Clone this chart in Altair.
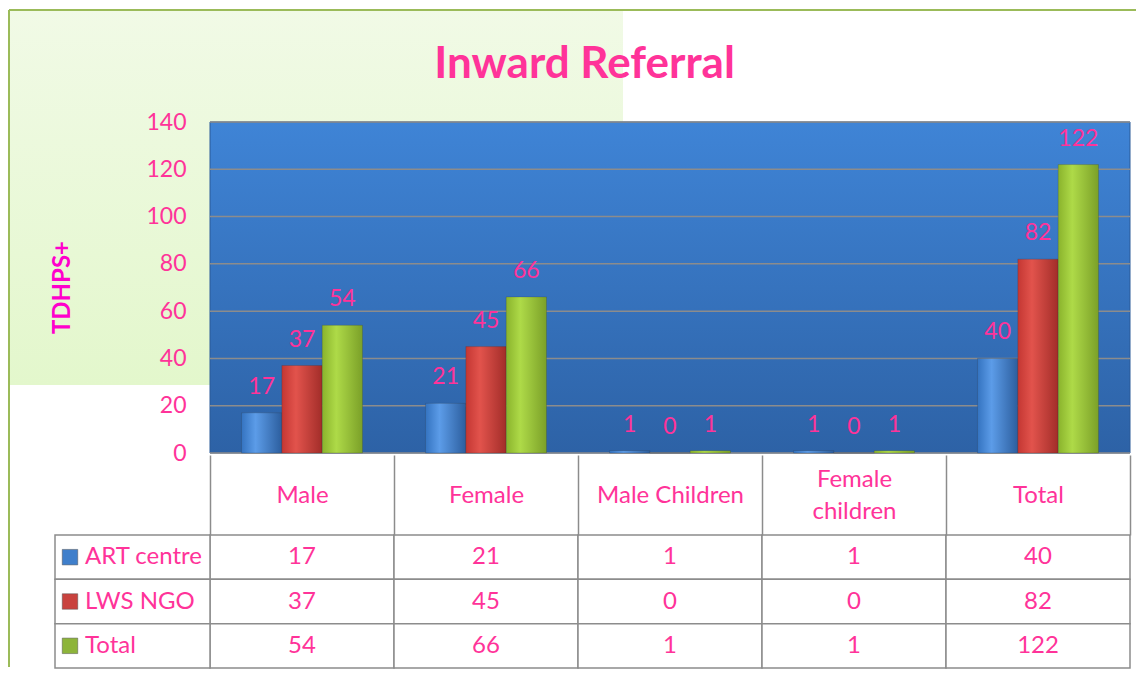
import altair as alt
import pandas as pd

# ---------------- data ----------------
categories = ["Male", "Female", "Male Children", "Female children", "Total"]
series = ["ART centre", "LWS NGO", "Total"]
art_centre = [17, 21, 1, 1, 40]
lws_ngo = [37, 45, 0, 0, 82]
total = [54, 66, 1, 1, 122]
y_ticks = [0, 20, 40, 60, 80, 100, 120, 140]

rows = []
for s, vals in zip(series, [art_centre, lws_ngo, total]):
    for c, v in zip(categories, vals):
        rows.append({"category": c, "series": s, "value": v})
df = pd.DataFrame(rows)
one = pd.DataFrame({"k": [0]})

# ---------------- style ----------------
FONT = "Lato"
PINK = "#FF3399"
MAGENTA = "#FF00CC"
GRID = "#8C8C8C"
FRAME = "#9BBB59"
series_colors = ["#3F7FCB", "#C9423E", "#8DB43A"]


def hgrad(c0, c1, c2):
    return alt.Gradient(
        gradient="linear", x1=0, x2=1, y1=0, y2=0,
        stops=[alt.GradientStop(color=c0, offset=0),
               alt.GradientStop(color=c1, offset=0.35),
               alt.GradientStop(color=c2, offset=1)])


def vgrad(c0, c1):
    return alt.Gradient(
        gradient="linear", x1=0, x2=0, y1=0, y2=1,
        stops=[alt.GradientStop(color=c0, offset=0),
               alt.GradientStop(color=c1, offset=1)])


bar_fills = [hgrad("#3473C0", "#5C9CE8", "#2C5E9E"),
             hgrad("#C43733", "#E2534C", "#A22D29"),
             hgrad("#8AB32C", "#AEDA48", "#7BA028")]

x_enc = alt.X("category:N", sort=categories,
              scale=alt.Scale(domain=categories, paddingInner=0, paddingOuter=0),
              axis=None)
xo_enc = alt.XOffset("series:N", sort=series,
                     scale=alt.Scale(domain=series, paddingInner=0, paddingOuter=0.78))
y_scale = alt.Scale(domain=[0, 140], nice=False, zero=True)
y_axis = alt.Axis(values=y_ticks, grid=False, ticks=False, domain=False, zindex=1,
                  labelFontSize=23, labelColor=PINK, labelFont=FONT, labelPadding=24,
                  title="TDHPS+", titleFont=FONT, titleFontSize=24, titleFontWeight="bold",
                  titleColor=MAGENTA, titleAngle=270, titleX=-148, titleY=165,
                  titleAlign="center", titleBaseline="middle")

# ---------------- top chart ----------------
green_bg = alt.Chart(one).mark_rect(fill=vgrad("#F1FAE6", "#E3F7CC")).encode(
    x=alt.value(-202), x2=alt.value(413), y=alt.value(-112), y2=alt.value(263))

blue_wall = alt.Chart(one).mark_rect(fill=vgrad("#3F84D6", "#2D62A6"),
                                     stroke="#2A5A98", strokeWidth=1).encode(
    x=alt.value(0), x2=alt.value("width"), y=alt.value(0), y2=alt.value("height"))

grid = alt.Chart(pd.DataFrame({"value": y_ticks})).mark_rule(
    color=GRID, strokeWidth=1.5).encode(
    y=alt.Y("value:Q", scale=y_scale, axis=y_axis, title="TDHPS+"))

bars = []
for s, f in zip(series, bar_fills):
    bars.append(
        alt.Chart(df).transform_filter(alt.datum.series == s).mark_bar(
            fill=f, stroke="#2B2B2B", strokeOpacity=0.25, strokeWidth=0.8).encode(
            x=x_enc, xOffset=xo_enc,
            y=alt.Y("value:Q", scale=y_scale, axis=y_axis, title="TDHPS+")))

labels = alt.Chart(df).mark_text(dy=-26, fontSize=23, color=PINK, font=FONT,
                                 baseline="middle").encode(
    x=x_enc, xOffset=xo_enc,
    y=alt.Y("value:Q", scale=y_scale, axis=y_axis, title="TDHPS+"),
    text="value:Q")

frame_left = alt.Chart(one).mark_rule(color=FRAME, strokeWidth=2).encode(
    x=alt.value(-201), y=alt.value(-112), y2=alt.value("height"))
frame_top = alt.Chart(one).mark_rule(color=FRAME, strokeWidth=2).encode(
    x=alt.value(-201), x2=alt.value(926), y=alt.value(-112))

top = alt.layer(green_bg, blue_wall, grid, *bars, labels, frame_left, frame_top).properties(
    width=920, height=331)

# ---------------- table ----------------
tx = alt.X("category:N", sort=categories,
           scale=alt.Scale(domain=categories, paddingInner=0, paddingOuter=0),
           axis=alt.Axis(orient="top", title=None, domain=False, ticks=True,
                         tickBand="extent", tickSize=80, tickColor=GRID, tickWidth=1.5,
                         labelPadding={"condition": {"test": "datum.value == 'Female children'",
                                                     "value": -24},
                                       "value": -40},
                         labelBaseline="middle", labelAngle=0,
                         labelFontSize=24, labelColor=PINK, labelFont=FONT,
                         labelLineHeight=32, labelLimit=0,
                         labelExpr="datum.label == 'Female children' ? ['Female', 'children'] : datum.label"))
ty = alt.Y("series:N", sort=series,
           scale=alt.Scale(domain=series, paddingInner=0, paddingOuter=0), axis=None)

cells = alt.Chart(df).mark_rect(fill="white", stroke=GRID, strokeWidth=1.5).encode(
    x=tx, y=ty)
name_cells = alt.Chart(df).transform_filter(alt.datum.category == "Male").mark_rect(
    fill="white", stroke=GRID, strokeWidth=1.5).encode(
    x=alt.value(-155), x2=alt.value(0), y=ty)
cell_text = alt.Chart(df).mark_text(fontSize=24, color=PINK, font=FONT,
                                    baseline="middle").encode(
    x=tx, y=ty, text="value:Q")
squares = alt.Chart(df).transform_filter(alt.datum.category == "Male").mark_point(
    shape="square", filled=True, size=240, opacity=1, stroke="#555555",
    strokeWidth=0.5).encode(
    x=alt.value(-140), y=ty,
    color=alt.Color("series:N", scale=alt.Scale(domain=series, range=series_colors),
                    legend=None))
names = alt.Chart(df).transform_filter(alt.datum.category == "Male").mark_text(
    fontSize=24, color=PINK, font=FONT, align="left", baseline="middle").encode(
    x=alt.value(-125), y=ty, text="series:N")
frame_left2 = alt.Chart(one).mark_rule(color=FRAME, strokeWidth=2).encode(
    x=alt.value(-201), y=alt.value(-82), y2=alt.value(132))

table = alt.layer(cells, name_cells, cell_text, squares, names, frame_left2).properties(
    width=920, height=133)

chart = alt.vconcat(top, table, spacing=-13).properties(
    title=alt.TitleParams("Inward Referral", fontSize=44, font=FONT, fontWeight="bold",
                          color=PINK, anchor="middle", offset=-78, dx=12),
    padding={"left": 0, "top": 1, "right": 0, "bottom": 0},
    background="white",
).configure_view(strokeWidth=0)

chart.save("out.html", embed_options={"renderer": "svg", "actions": False})
